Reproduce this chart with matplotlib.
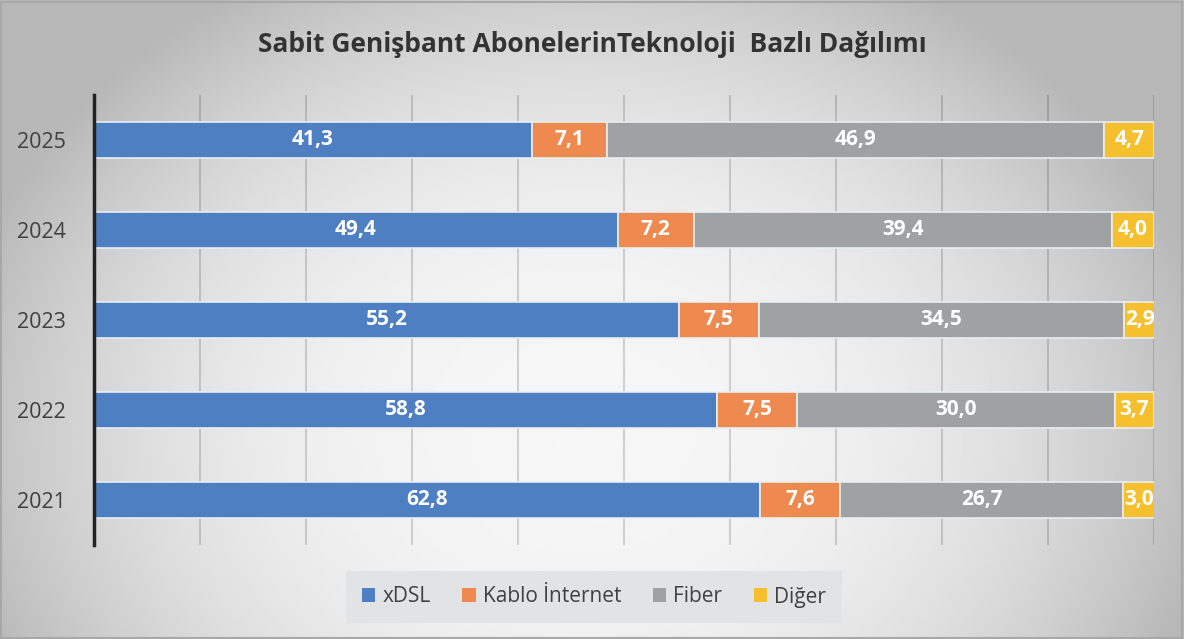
import numpy as np
import matplotlib.pyplot as plt
from matplotlib.patches import Patch

years = ['2021', '2022', '2023', '2024', '2025']
xdsl = [62.8, 58.8, 55.2, 49.4, 41.3]
kablo = [7.6, 7.5, 7.5, 7.2, 7.1]
fiber = [26.7, 30.0, 34.5, 39.4, 46.9]
diger = [3.0, 3.7, 2.9, 4.0, 4.7]
series_names = ['xDSL', 'Kablo İnternet', 'Fiber', 'Diğer']
colors = ['#4f7fc3', '#ee8a4f', '#9fa1a3', '#f6bf2d']

plt.rcParams['font.family'] = ['Open Sans', 'DejaVu Sans']

fig = plt.figure(figsize=(11.84, 6.39), dpi=100)

# gradient background (light centre, grey edges)
bg = fig.add_axes([0, 0, 1, 1], zorder=-10)
xx, yy = np.meshgrid(np.linspace(-1, 1, 400), np.linspace(-1, 1, 220))
r = np.sqrt(((xx + 0.02) / 1.0) ** 2 + ((yy - 0.35) / 1.5) ** 2)
shade = np.clip(0.965 - 0.2 * r ** 2.4, 0.72, 1.0)
bg.imshow(shade, cmap='gray', vmin=0, vmax=1, aspect='auto',
          extent=[0, 1, 0, 1], origin='upper')
bg.set_xlim(0, 1)
bg.set_ylim(0, 1)
bg.axis('off')
bg.add_patch(plt.Rectangle((0.001, 0.002), 0.997, 0.995, fill=False,
                           edgecolor='#a8a8a8', linewidth=1.5))

ax = fig.add_axes([94 / 1184, 1 - 545 / 639, 1060 / 1184, 450 / 639])
ax.patch.set_alpha(0)

y = np.arange(len(years))
left = np.zeros(len(years))
for vals, name, col in zip([xdsl, kablo, fiber, diger], series_names, colors):
    bars = ax.barh(y, vals, left=left, height=0.4, color=col,
                   edgecolor='#e8eef4', linewidth=1.2, label=name, zorder=3)
    for b, v in zip(bars, vals):
        ax.text(b.get_x() + b.get_width() / 2, b.get_y() + b.get_height() / 2,
                f'{v:.1f}'.replace('.', ','), ha='center', va='center',
                color='white', fontsize=15, fontweight='bold', zorder=4)
    left += np.array(vals)

ax.set_xlim(0, 100)
ax.set_ylim(-0.5, 4.5)
ax.set_xticks(np.arange(0, 101, 10))
ax.tick_params(axis='x', length=0, labelbottom=False)
ax.grid(axis='x', color='black', linewidth=1.3, alpha=0.17, zorder=1)
ax.set_yticks(y)
ax.set_yticklabels(years, fontsize=15.5, color='#404040')
ax.tick_params(axis='y', length=0, pad=20)
for s in ['top', 'right', 'bottom']:
    ax.spines[s].set_visible(False)
ax.spines['left'].set_linewidth(2.5)
ax.spines['left'].set_color('#222222')
ax.spines['left'].set_zorder(5)

fig.text(0.5, 1 - 45 / 639, 'Sabit Genişbant AbonelerinTeknoloji  Bazlı Dağılımı',
         ha='center', va='center', fontsize=19, fontweight='bold', color='#333333')

handles = [Patch(facecolor=c, edgecolor='none') for c in colors]
leg = fig.legend(handles, series_names, loc='center', bbox_to_anchor=(594 / 1184, 1 - 597 / 639),
                 ncol=4, frameon=True, fontsize=15, handlelength=0.65, handleheight=0.65,
                 handletextpad=0.35, columnspacing=1.5, borderpad=0.45,
                 labelcolor='#404040')
leg.get_frame().set_facecolor('#e2e3e4')
leg.get_frame().set_edgecolor('none')
leg.get_frame().set_alpha(1)
leg.get_frame().set_boxstyle('square')

fig.savefig('out.png', dpi=100)
